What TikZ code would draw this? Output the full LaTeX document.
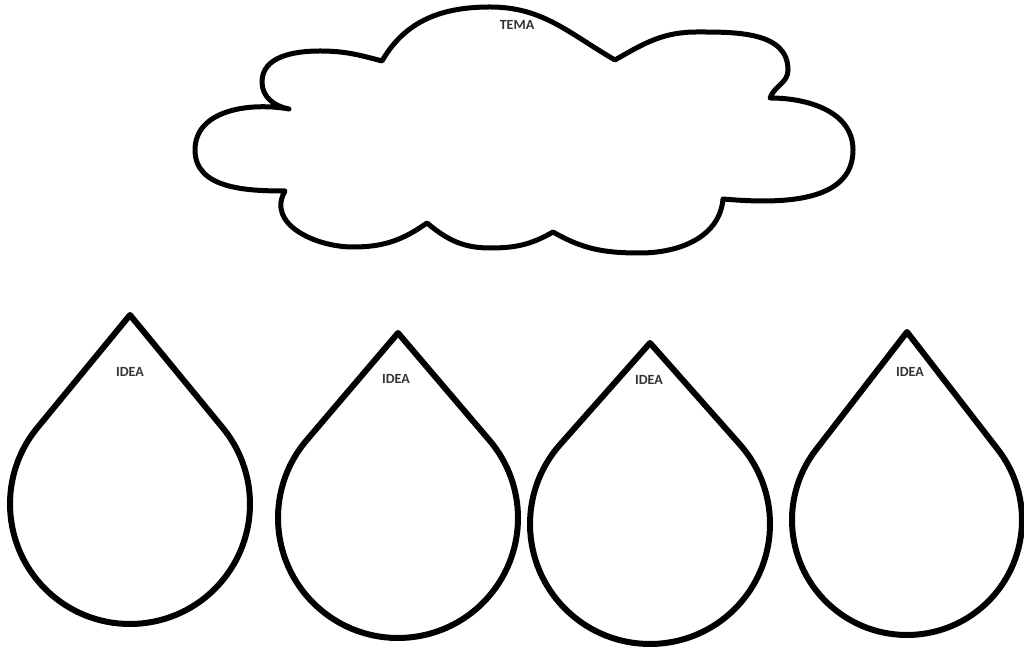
\documentclass[tikz,border=0pt]{standalone}
\usepackage{fontspec}
\setmainfont{Carlito}
\tikzset{
  cloudline/.style={line width=5pt, line join=round, black},
  dropline/.style={line width=6pt, line join=round, black},
  lbl/.style={font=\bfseries\fontsize{14}{14}\selectfont, text=black!80, inner sep=0pt}
}
\newcommand\raindrop[5]{% cx, cy, r, d, label-name
  \pgfmathsetmacro\dA{90+acos(#3/#4)}
  \pgfmathsetmacro\dB{450-acos(#3/#4)}
  \draw[dropline] (#1,#2+#4) -- ([shift={(\dA:#3)}]#1,#2)
     arc[start angle=\dA, end angle=\dB, radius=#3] -- cycle;
}
\begin{document}
\begin{tikzpicture}[x=1pt,y=1pt]
\useasboundingbox[fill=white] (0,0) rectangle (1024,647);
% cloud
\draw[cloudline] (382,586)
  to[out=165,in=0] (320,596)
  to[out=180,in=90] (262,565)
  to[out=-90,in=170] (289,538)
  to[out=170,in=90] (195,497)
  to[out=-90,in=180] (285,456)
  to[out=-120,in=180,looseness=1.1] (353,400)
  to[out=0,in=-145] (427,424)
  to[out=-40,in=180] (490,399)
  to[out=0,in=-150] (553,415)
  to[out=-30,in=180] (640,394)
  to[out=0,in=-95] (723,448)
  to[out=-5,in=-90] (853,497)
  to[out=90,in=0] (770,549)
  to[out=70,in=-90] (788,577)
  to[out=90,in=0] (697,615)
  to[out=180,in=30] (615,587)
  to[out=150,in=0] (490,640)
  to[out=180,in=60] (382,586) -- cycle;
\node[lbl] (tema) at (517,622) {TEMA};
% drops
\raindrop{130}{143}{120}{189}{d1}
\raindrop{398}{129}{120}{185}{d2}
\raindrop{650}{123}{120}{181}{d3}
\raindrop{907}{127}{115}{188}{d4}
\node[lbl] (idea1) at (130,275) {IDEA};
\node[lbl] (idea2) at (396,268) {IDEA};
\node[lbl] (idea3) at (649,267) {IDEA};
\node[lbl] (idea4) at (910,275) {IDEA};
\end{tikzpicture}
\end{document}
